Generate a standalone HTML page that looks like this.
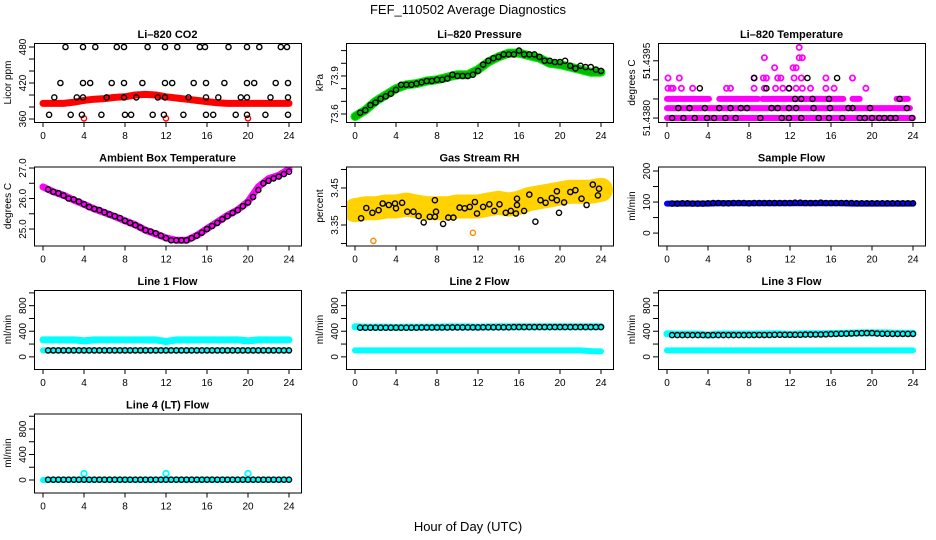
<!DOCTYPE html>
<html><head><meta charset="utf-8"><style>
html,body{margin:0;padding:0;background:#fff;}
svg{display:block;font-family:"Liberation Sans",Arial,sans-serif;}
</style></head><body>
<svg id="chart" width="936" height="540" viewBox="0 0 936 540" xmlns="http://www.w3.org/2000/svg">
<rect width="936" height="540" fill="#fff"/>
<text x="468" y="14" text-anchor="middle" font-size="13">FEF_110502  Average Diagnostics</text>
<text x="468" y="531" text-anchor="middle" font-size="13">Hour of Day (UTC)</text>
</svg>
<script>
const hours = [0,1,2,3,4,5,6,7,8,9,10,11,12,13,14,15,16,17,18,19,20,21,22,23,24];
const halfHours = [0.5,1,1.5,2,2.5,3,3.5,4,4.5,5,5.5,6,6.5,7,7.5,8,8.5,9,9.5,10,10.5,11,11.5,12,12.5,13,13.5,14,14.5,15,15.5,16,16.5,17,17.5,18,18.5,19,19.5,20,20.5,21,21.5,22,22.5,23,23.5,24];
const xTickLabels = [0,4,8,12,16,20,24];

// CO2
const co2Band = [386,386,386,388,391,393,394,396,397,400,401,400,397,395,393,391,389,387,386,386,386,386,386,386,386];
const co2BlackT = [2.2,3.9,5.1,7.2,7.9,10.2,11.9,13.1,15.3,15.8,18.1,19.9,21.1,23.2,23.8, 1.7,3.9,4.6,6.7,7.9,9.7,11.9,12.6,14.7,15.9,17.7,19.9,20.6,22.7,23.9, 1.1,3.3,3.9,6.2,7.9,9.1,11.2,11.9,14.2,15.9,17.1,19.3,19.9,22.2,23.9, 0.6,2.7,3.8,5.7,8.0,8.6,10.7,11.8,13.7,15.9,16.6,18.8,19.9,21.7,23.9];
const co2BlackV = [480,480,480,480,480,480,480,480,480,480,480,480,480,480,480, 420,420,420,420,420,420,420,420,420,420,420,420,420,420,420, 396,396,396,396,396,396,396,396,396,396,396,396,396,396,396, 367,367,367,367,367,367,367,367,367,367,367,367,367,367,367];
const co2OutT = [4,12,20];
const co2OutV = [361,361,361];

// Pressure
const presBand = [73.58,73.63,73.70,73.75,73.80,73.83,73.84,73.86,73.87,73.89,73.91,73.91,73.95,74.01,74.05,74.08,74.08,74.06,74.04,74.00,73.99,73.97,73.95,73.93,73.93];
const presBlack = [73.61,73.63,73.67,73.69,73.72,73.74,73.76,73.79,73.83,73.83,73.83,73.84,73.85,73.86,73.86,73.87,73.87,73.88,73.91,73.90,73.90,73.90,73.91,73.94,73.99,74.02,74.04,74.05,74.07,74.07,74.07,74.10,74.07,74.07,74.07,74.05,74.02,74.02,74.01,74.01,74.02,73.98,73.96,73.98,73.97,73.97,73.95,73.94];

// Li-820 temperature
const tempSegStart = [0,0,0,5.1,9.3,18.1,22.4];
const tempSegEnd = [24,23.7,4.1,8.9,17.2,18.8,23.5];
const tempSegLevel = [51.43800,51.43826,51.43850,51.43850,51.43850,51.43850,51.43850];
const tempPinkT = [0.1,0.4,0.6,1.4,2.5,5.8,6.2,8.5,9.5,10.6,11.3,11.9,12.6,13.2,14.0,15.5,16.3,19.4, 0.1,1.2,8.5,9.4,9.7,10.8,11.1,12.4,13.1,15.5,18.1, 10.5,12.3,12.6, 9.5,12.9,13.2, 12.9];
const tempPinkV = [51.43878,51.43878,51.43878,51.43878,51.43878,51.43878,51.43878,51.43878,51.43878,51.43878,51.43878,51.43878,51.43878,51.43878,51.43878,51.43878,51.43878,51.43878, 51.43905,51.43905,51.43905,51.43905,51.43905,51.43905,51.43905,51.43905,51.43905,51.43905,51.43905, 51.43932,51.43932,51.43932, 51.43958,51.43958,51.43958, 51.43985];
const tempBlackT = [0.5,1.6,2.7,3.9,4.6,5.7,6.7,9.1,11.2,11.9,13.1,14.8,15.8,17.1,18.8,19.3,20.0,20.7,21.2,21.8,22.3,23.9, 1.1,2.2,3.7,5.1,6.2,7.2,7.8,10.2,10.8,11.9,12.6,14.3,15.9,17.7,18.1,19.8,23.4, 12.5,13.1,14.2,15.8,22.7, 3.2,9.7,11.9, 8.5,13.7,16.6];
const tempBlackV = [51.43800,51.43800,51.43800,51.43800,51.43800,51.43800,51.43800,51.43800,51.43800,51.43800,51.43800,51.43800,51.43800,51.43800,51.43800,51.43800,51.43800,51.43800,51.43800,51.43800,51.43800,51.43800, 51.43826,51.43826,51.43826,51.43826,51.43826,51.43826,51.43826,51.43826,51.43826,51.43826,51.43826,51.43826,51.43826,51.43826,51.43826,51.43826,51.43826, 51.43850,51.43850,51.43850,51.43850,51.43850, 51.43878,51.43878,51.43878, 51.43905,51.43905,51.43905];

// Ambient box temperature
const ambBand = [26.38,26.22,26.11,25.95,25.81,25.66,25.54,25.41,25.27,25.14,24.96,24.84,24.71,24.63,24.63,24.79,25.01,25.23,25.45,25.63,25.90,26.38,26.65,26.76,26.96];
const ambBlack = [26.3,26.22,26.17,26.1,26.0,25.97,25.9,25.81,25.72,25.66,25.62,25.55,25.48,25.42,25.36,25.27,25.2,25.13,25.05,24.96,24.92,24.86,24.78,24.7,24.63,24.63,24.63,24.63,24.7,24.78,24.88,25.0,25.1,25.2,25.32,25.42,25.53,25.62,25.75,25.87,26.05,26.28,26.5,26.58,26.66,26.72,26.8,26.88];

// Gas stream RH
const rhBand = [3.39,3.395,3.395,3.40,3.40,3.405,3.40,3.395,3.395,3.395,3.40,3.40,3.40,3.405,3.41,3.405,3.41,3.42,3.425,3.43,3.435,3.44,3.44,3.44,3.445];
const rhBlackT = [0.6,1.1,1.7,2.3,2.7,3.3,3.9,4.0,4.6,5.1,5.7,6.2,6.7,7.3,7.8,7.8,7.9,8.6,9.1,9.6,10.2,10.7,11.2,11.7,11.9,12.5,13.1,13.6,14.1,14.7,15.2,15.7,15.8,15.8,16.5,17.0,17.6,18.1,18.6,19.2,19.7,19.7,19.9,20.4,21.0,21.5,22.1,22.6,23.2,23.7,23.8];
const rhBlackV = [3.368,3.396,3.383,3.390,3.408,3.404,3.408,3.395,3.41,3.386,3.386,3.374,3.357,3.372,3.372,3.417,3.386,3.353,3.37,3.37,3.397,3.395,3.399,3.412,3.381,3.399,3.406,3.388,3.406,3.383,3.388,3.381,3.404,3.421,3.388,3.432,3.359,3.417,3.41,3.423,3.441,3.417,3.383,3.411,3.439,3.444,3.421,3.404,3.459,3.43,3.448];
const rhOutT = [1.8,11.5];
const rhOutV = [3.307,3.329];

// Sample flow
const sampBand = [95,95,95,95,95,96,96,96,96,96,96,96,96,96,96,96,96,96,95,95,95,95,95,95,95];
const sampBlack = [95,95,96,96,95,95,95,96,97,97,96,96,97,97,97,96,97,97,97,97,97,97,97,97,98,98,97,97,97,98,97,97,97,97,97,97,96,96,96,96,96,96,96,96,96,96,96,96];

// Line 1 flow
const l1High = [265,265,265,265,250,265,265,265,265,265,265,265,240,265,265,265,265,265,265,265,250,265,265,265,265];
const l1Low = [100,100,100,100,100,100,100,100,100,100,100,100,100,100,100,100,100,100,100,100,100,100,100,100,100];
const l1Black = [100,100,100,100,100,100,100,100,100,100,100,100,100,100,100,100,100,100,100,100,100,100,100,100,100,100,100,100,100,100,100,100,100,100,100,100,100,100,100,100,100,100,100,100,100,100,100,100];

// Line 2 flow
const l2High = [470,465,465,465,460,465,465,465,465,468,468,468,465,468,470,470,470,470,470,470,470,470,470,470,470];
const l2Low = [100,100,100,100,100,100,100,100,100,100,100,100,100,100,100,100,100,100,100,100,100,100,100,90,85];
const l2Black = [455,455,455,455,455,455,455,455,455,455,455,455,458,458,458,458,458,458,460,460,460,460,460,460,462,462,462,462,462,462,465,465,465,465,465,465,465,465,465,465,465,465,465,465,465,465,465,465];

// Line 3 flow
const l3High = [360,355,355,355,340,355,355,355,355,355,358,358,350,358,360,362,365,370,372,375,375,375,372,370,368];
const l3Low = [100,100,100,100,100,100,100,100,100,100,100,100,100,100,100,100,100,100,100,100,100,100,100,100,100];
const l3Black = [340,340,340,340,340,340,340,340,340,340,340,340,340,340,340,340,342,342,342,342,345,345,345,345,345,345,348,348,350,350,352,355,358,360,362,365,368,370,372,372,365,360,360,358,358,358,358,358];

// Line 4 flow
const l4Cyan = [0,5,5,5,5,5,5,5,5,5,5,5,5,5,5,5,5,5,5,5,5,5,5,5,5];
const l4SpikeT = [4,12,20];
const l4SpikeV = [100,100,100];
const l4Black = [5,5,5,5,5,5,5,5,5,5,5,5,5,5,5,5,5,5,5,5,5,5,5,5,5,5,5,5,5,5,5,5,5,5,5,5,5,5,5,5,5,5,5,5,5,5,5,5];

const NS = 'http://www.w3.org/2000/svg';
const svg = document.getElementById('chart');
function mk(tag, attrs, parent) {
  const e = document.createElementNS(NS, tag);
  for (const k in attrs) e.setAttribute(k, attrs[k]);
  (parent || svg).appendChild(e);
  return e;
}

function makePanel(c, r, title, ylab, usr, ticks, labels, nameKey) {
  const x0 = 34 + 312 * c, x1 = 301 + 312 * c;
  const y0 = 43 + 123.5 * r, y1 = 122 + 123.5 * r;
  const g = mk('g', {});
  
  
  const xs = h => x0 + 9 + h * 246 / 24;
  const ys = v => y1 - (v - usr[0]) / (usr[1] - usr[0]) * (y1 - y0);
  const t = mk('text', {x: (x0 + x1) / 2, y: y0 - 5, 'text-anchor': 'middle', 'font-size': 11, 'font-weight': 'bold'}, g);
  t.textContent = title;
  
  
  const yl = mk('text', {x: 0, y: 0, 'text-anchor': 'middle', 'font-size': 10, transform: 'translate(' + (x0 - 23) + ',' + ((y0 + y1) / 2) + ') rotate(-90)'}, g);
  yl.textContent = ylab;
  
  
  const ax = mk('g', {stroke: '#000', 'stroke-width': 1}, g);
  
  
  mk('line', {x1: xs(0), x2: xs(24), y1: y1 + 0.5, y2: y1 + 0.5}, ax);
  xTickLabels.forEach(h => {
    mk('line', {x1: xs(h), x2: xs(h), y1: y1, y2: y1 + 5}, ax);
    const tl = mk('text', {x: xs(h), y: y1 + 17, 'text-anchor': 'middle', 'font-size': 10, stroke: 'none'}, g);
    tl.textContent = h;
    
    
  });
  ticks.forEach(v => {
    mk('line', {x1: x0 - 5, x2: x0, y1: ys(v), y2: ys(v)}, ax);
  });
  mk('line', {x1: x0 + 0.5, x2: x0 + 0.5, y1: ys(ticks[0]), y2: ys(ticks[ticks.length - 1])}, ax);
  labels.forEach(l => {
    const tl = mk('text', {x: 0, y: 0, 'text-anchor': 'middle', 'font-size': 10, transform: 'translate(' + (x0 - 8) + ',' + ys(l[0]) + ') rotate(-90)'}, g);
    tl.textContent = l[1];
    
    
  });
  const clipId = 'clip-' + nameKey;
  const cp = mk('clipPath', {id: clipId}, g);
  mk('rect', {x: x0, y: y0, width: x1 - x0, height: y1 - y0}, cp);
  const plot = mk('g', {'clip-path': 'url(#' + clipId + ')'}, g);
  
  
  const box = mk('rect', {x: x0 + 0.5, y: y0 + 0.5, width: x1 - x0, height: y1 - y0, fill: 'none', stroke: '#000'}, g);
  
  
  return {xs, ys, plot};
}

function band(p, ts, vs, color, w, name, extra) {
  const pts = ts.map((t, i) => p.xs(t).toFixed(1) + ',' + p.ys(vs[i]).toFixed(1)).join(' ');
  const pl = mk('polyline', Object.assign({points: pts, fill: 'none', stroke: color, 'stroke-width': w, 'stroke-linecap': 'round', 'stroke-linejoin': 'round'}, extra || {}), p.plot);
  
  
  return pl;
}
function circles(p, ts, vs, color, name, rad, sw) {
  const g = mk('g', {fill: 'none', stroke: color, 'stroke-width': sw || 1.4}, p.plot);
  
  
  ts.forEach((t, i) => {
    const c = mk('circle', {cx: p.xs(t).toFixed(1), cy: p.ys(vs[i]).toFixed(1), r: rad || 2.6}, g);
    
    
  });
}
function rng(a, b, s) { const o = []; for (let v = a; v <= b + 1e-9; v += s) o.push(+v.toFixed(6)); return o; }

// Panel 1 CO2
let p = makePanel(0, 0, 'Li\u2013820 CO2', 'Licor ppm', [355, 486.7], rng(360, 480, 20), [[360, '360'], [420, '420'], [480, '480']], 'co2');
band(p, hours, co2Band, '#ff0000', 7, 'co2-red-series');
circles(p, co2OutT, co2OutV, '#ff0000', 'co2-red-outliers');
circles(p, co2BlackT, co2BlackV, '#000', 'co2-black-series');

// Panel 2 Pressure
p = makePanel(1, 0, 'Li\u2013820 Pressure', 'kPa', [73.537, 74.16], rng(73.6, 74.1, 0.1), [[73.6, '73.6'], [73.9, '73.9']], 'pressure');
band(p, hours, presBand, '#00ee00', 9, 'pressure-green-series');
band(p, hours, presBand, '#005500', 7, 'pressure-green-texture', {'stroke-dasharray': '1,2', 'stroke-opacity': 0.35});
circles(p, halfHours, presBlack, '#000', 'pressure-black-series');

// Panel 3 Temperature
p = makePanel(2, 0, 'Li\u2013820 Temperature', 'degrees C', [51.437896, 51.439966], [51.438, 51.4385, 51.439, 51.4395], [[51.438, '51.4380'], [51.43917, '51'], [51.4395, '51.4395']], 'li820-temp');
tempSegStart.forEach((s, i) => {
  band(p, [s, tempSegEnd[i]], [tempSegLevel[i], tempSegLevel[i]], '#ff00ff', 6, 'li820-temp-pink-segment');
});
circles(p, tempPinkT, tempPinkV, '#ff00ff', 'li820-temp-pink-points', 2.6, 1.8);
circles(p, tempBlackT, tempBlackV, '#000', 'li820-temp-black-series');

// Panel 4 Ambient
p = makePanel(0, 1, 'Ambient Box Temperature', 'degrees C', [24.46, 27.05], rng(25, 27, 0.5), [[25, '25.0'], [26, '26.0'], [27, '27.0']], 'ambient');
band(p, hours, ambBand, '#ff00ff', 7, 'ambient-magenta-series');
circles(p, halfHours, ambBlack, '#000', 'ambient-black-series');

// Panel 5 RH
p = makePanel(1, 1, 'Gas Stream RH', 'percent', [3.2946, 3.508], rng(3.30, 3.50, 0.05), [[3.35, '3.35'], [3.45, '3.45']], 'rh');
band(p, hours, rhBand, '#ffd200', 24, 'rh-yellow-series');
circles(p, rhOutT, rhOutV, '#ff8800', 'rh-outliers');
circles(p, rhBlackT, rhBlackV, '#000', 'rh-black-series');

// Panel 6 Sample flow
p = makePanel(2, 1, 'Sample Flow', 'ml/min', [-40, 214.5], rng(0, 200, 50), [[0, '0'], [100, '100'], [200, '200']], 'sample-flow');
band(p, hours, sampBand, '#0000ff', 6, 'sample-flow-blue-series');
circles(p, halfHours, sampBlack, '#000', 'sample-flow-black-series');

const flowTicks = rng(0, 1000, 200);
const flowLabels = [[0, '0'], [400, '400'], [800, '800']];
// Line 1
p = makePanel(0, 2, 'Line 1 Flow', 'ml/min', [-190, 1045], flowTicks, flowLabels, 'line1');
band(p, hours, l1High, '#00ffff', 7, 'line1-cyan-high');
band(p, hours, l1Low, '#00ffff', 6, 'line1-cyan-low');
circles(p, halfHours, l1Black, '#000', 'line1-black-series');
// Line 2
p = makePanel(1, 2, 'Line 2 Flow', 'ml/min', [-190, 1045], flowTicks, flowLabels, 'line2');
band(p, hours, l2High, '#00ffff', 7, 'line2-cyan-high');
band(p, hours, l2Low, '#00ffff', 6, 'line2-cyan-low');
circles(p, halfHours, l2Black, '#000', 'line2-black-series');
// Line 3
p = makePanel(2, 2, 'Line 3 Flow', 'ml/min', [-190, 1045], flowTicks, flowLabels, 'line3');
band(p, hours, l3High, '#00ffff', 7, 'line3-cyan-high');
band(p, hours, l3Low, '#00ffff', 6, 'line3-cyan-low');
circles(p, halfHours, l3Black, '#000', 'line3-black-series');
// Line 4
p = makePanel(0, 3, 'Line 4 (LT) Flow', 'ml/min', [-196, 1043], flowTicks, flowLabels, 'line4');
band(p, hours, l4Cyan, '#00ffff', 6, 'line4-cyan-series');
circles(p, l4SpikeT, l4SpikeV, '#00ffff', 'line4-cyan-spikes', 2.8, 1.8);
circles(p, halfHours, l4Black, '#000', 'line4-black-series');
</script>
</body></html>
